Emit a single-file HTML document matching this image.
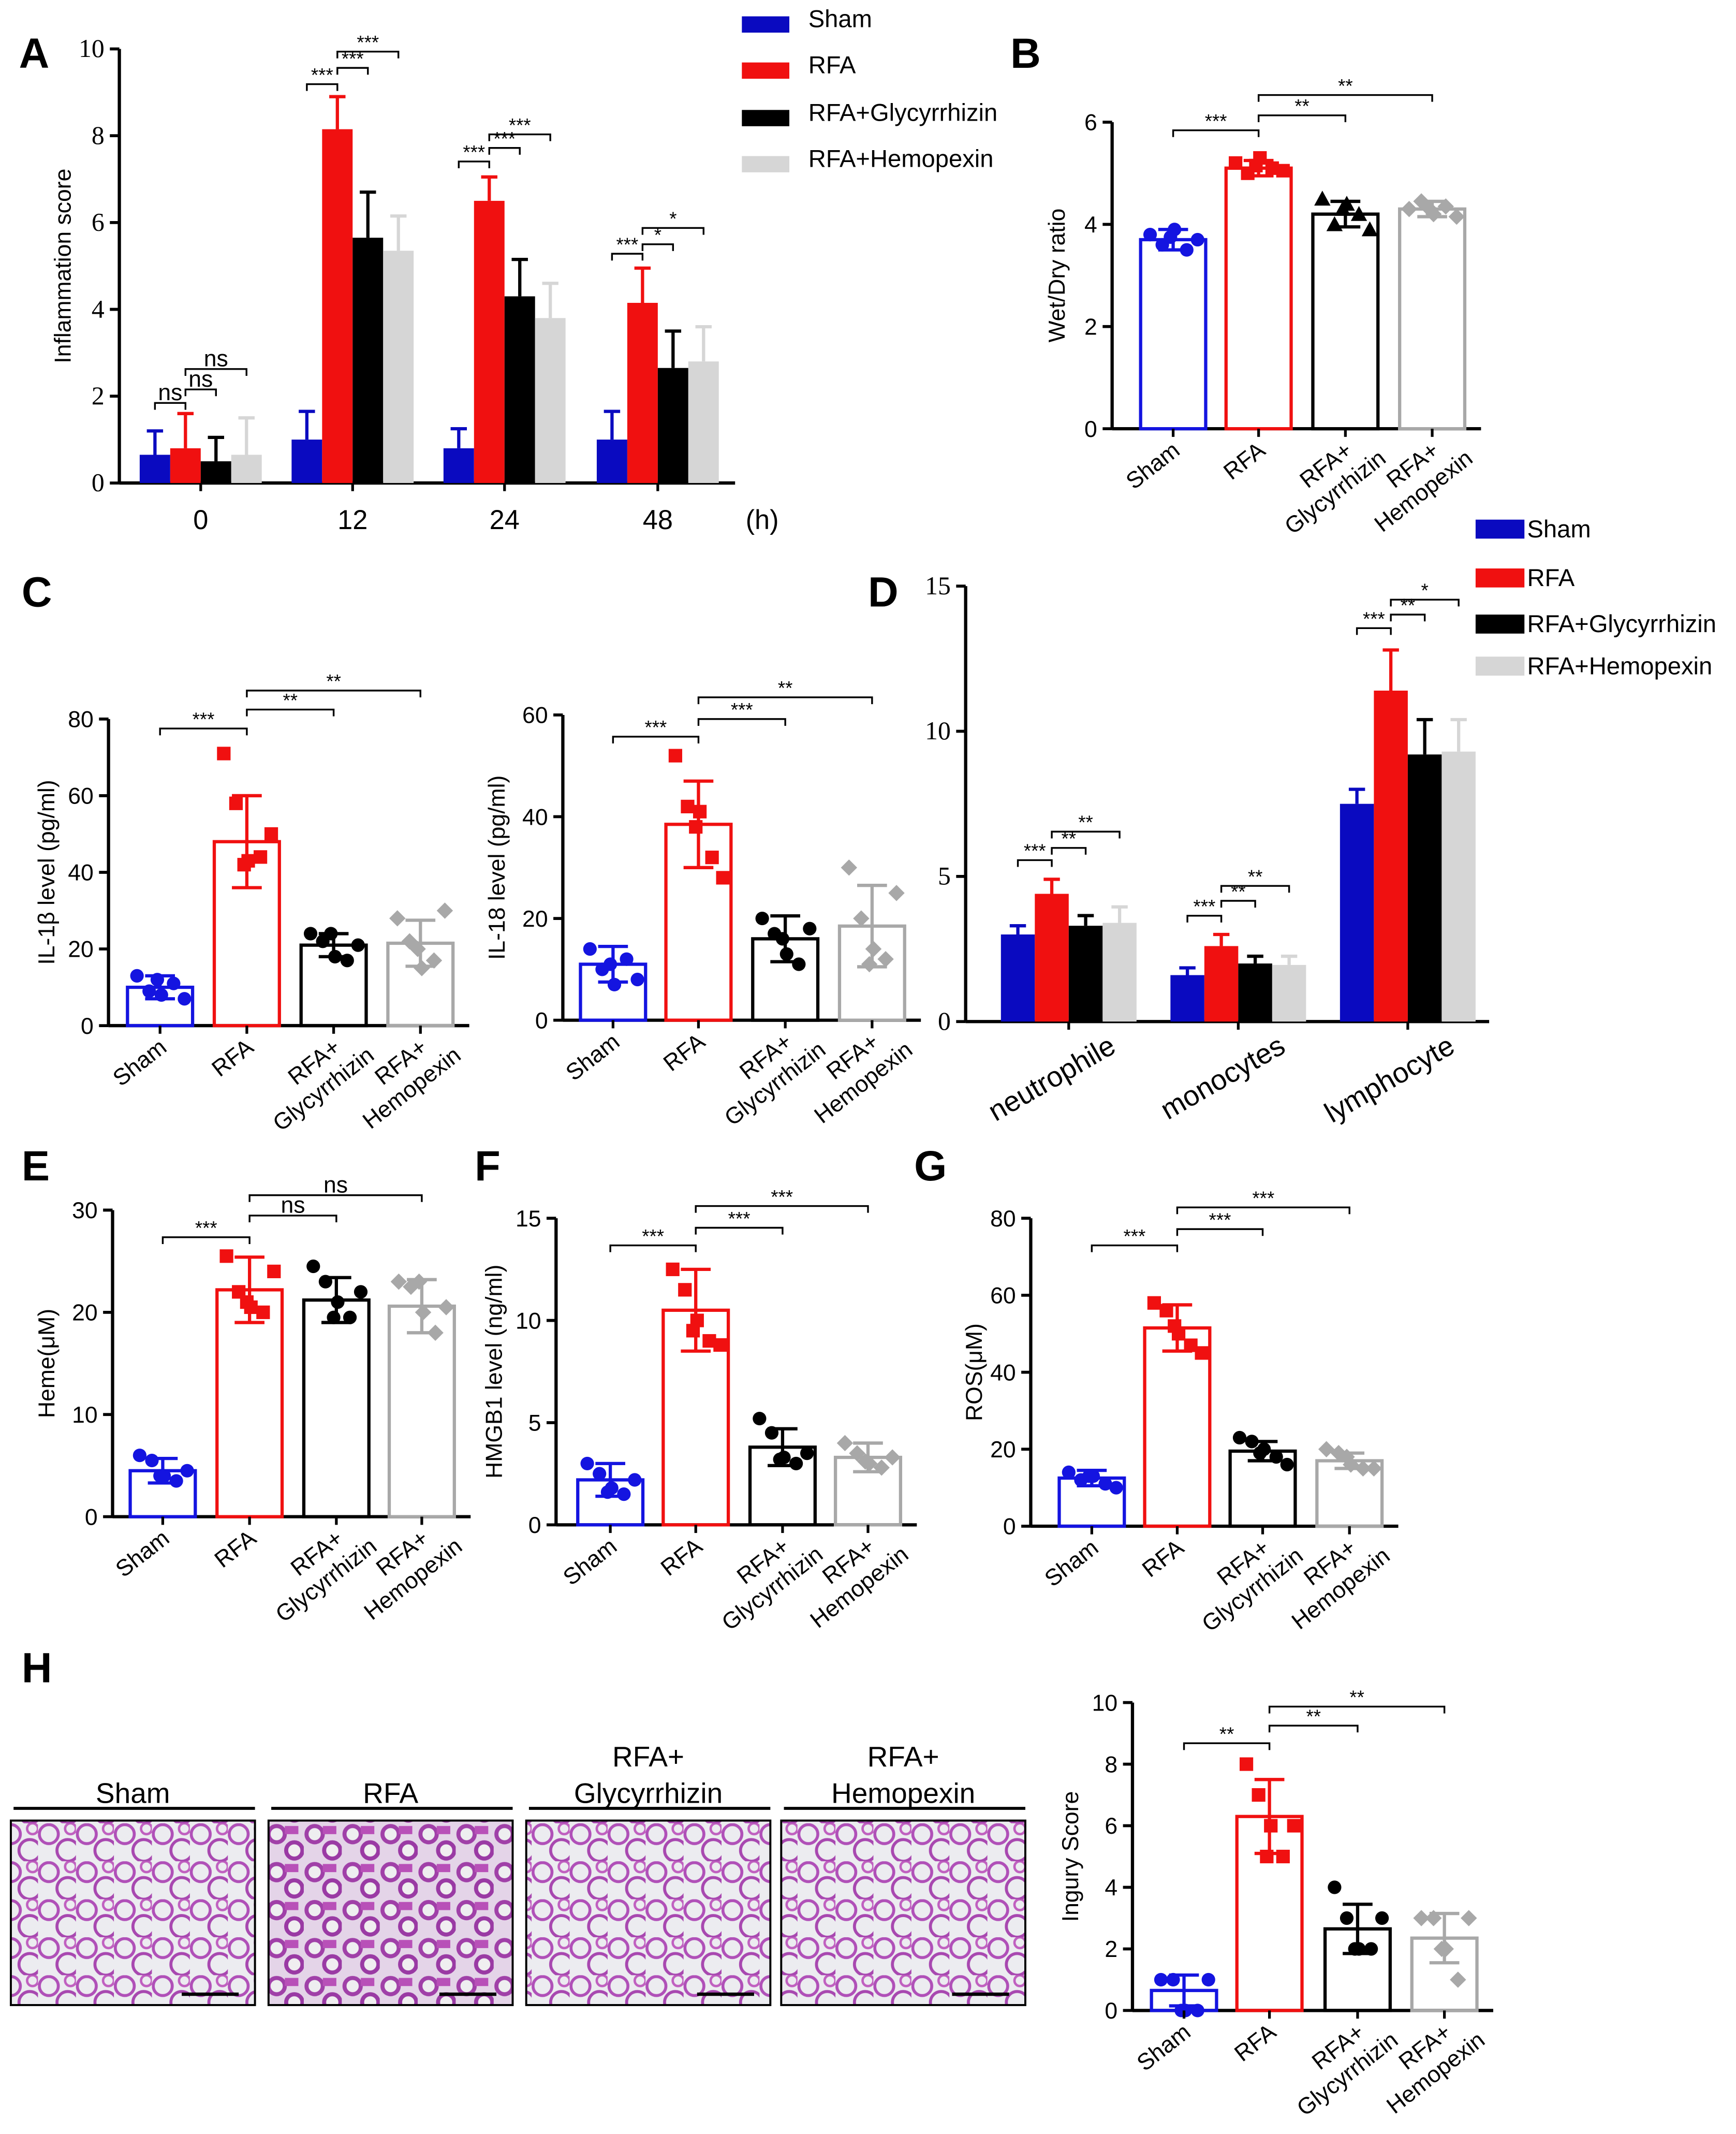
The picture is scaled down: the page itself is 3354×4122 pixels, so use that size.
<!DOCTYPE html>
<html><head><meta charset="utf-8"><style>
html,body{margin:0;padding:0;background:#fff}
svg{display:block}
text{font-family:"Liberation Sans",Arial,sans-serif;fill:#000}
</style></head><body>
<svg id="fig" xmlns="http://www.w3.org/2000/svg" width="3354" height="4122" viewBox="0 0 1280 1573">
<defs>
<pattern id="tissueA" width="28" height="28" patternUnits="userSpaceOnUse">
<rect width="28" height="28" fill="#ececf0"/>
<circle cx="8" cy="8" r="7" fill="none" stroke="#b050b8" stroke-width="2.2"/>
<circle cx="22" cy="20" r="8" fill="none" stroke="#a848b0" stroke-width="2.2"/>
<circle cx="24" cy="4" r="4" fill="none" stroke="#c060c0" stroke-width="1.8"/>
</pattern>
<pattern id="tissueB" width="28" height="28" patternUnits="userSpaceOnUse">
<rect width="28" height="28" fill="#e4d4e8"/>
<circle cx="8" cy="8" r="6" fill="#eeeef0" stroke="#a040a8" stroke-width="3"/>
<circle cx="21" cy="20" r="6" fill="#f0eef0" stroke="#9a3aa4" stroke-width="3"/>
<rect x="14" y="2" width="10" height="6" fill="#b850b8"/>
</pattern>
</defs>
<g id="root"></g>
</svg>
<script>
// ---------------- Data ----------------
const groups = ["Sham","RFA","RFA+Glycyrrhizin","RFA+Hemopexin"];
const colFill = ["#0a0ac0","#f01010","#000000","#d6d6d6"];
const colLine = ["#1414e0","#f01010","#000000","#a8a8a8"];

// Panel A
const aTimes = ["0","12","24","48"];
const aMeans = [[0.65,0.8,0.5,0.65],[1.0,8.15,5.65,5.35],[0.8,6.5,4.3,3.8],[1.0,4.15,2.65,2.8]];
const aErrs  = [[0.55,0.8,0.55,0.85],[0.65,0.75,1.05,0.8],[0.45,0.55,0.85,0.8],[0.65,0.8,0.85,0.8]];
const aTicks = [0,2,4,6,8,10];

// Panel B
const bMeans = [3.7,5.1,4.2,4.3];
const bErrs = [0.2,0.15,0.25,0.15];
const bPts = [[3.8,3.6,3.9,3.5,3.7,3.75],[5.2,5.0,5.3,5.1,5.05,5.15],[4.5,4.0,4.4,4.2,3.9,4.3],[4.3,4.45,4.2,4.35,4.15,4.3]];
const bTicks = [0,2,4,6];

// Panel C1 IL-1b
const c1Means = [10,48,21,21.5];
const c1Errs = [3,12,3,6];
const c1Pts = [[13,9,8,11,7,12],[71,58,43,44,50,42],[24,22,18,17,21,24],[28,22,15,17,30,20]];
const c1Ticks = [0,20,40,60,80];

// Panel C2 IL-18
const c2Means = [11,38.5,16,18.5];
const c2Errs = [3.5,8.5,4.5,8];
const c2Pts = [[14,10,7,12,8,11],[52,42,41,32,28,38],[20,17,13,11,18,16],[30,20,14,12,25,11]];
const c2Ticks = [0,20,40,60];

// Panel D
const dCats = ["neutrophile","monocytes","lymphocyte"];
const dMeans = [[3.0,4.4,3.3,3.4],[1.6,2.6,2.0,1.95],[7.5,11.4,9.2,9.3]];
const dErrs  = [[0.3,0.5,0.35,0.55],[0.25,0.4,0.25,0.3],[0.5,1.4,1.2,1.1]];
const dTicks = [0,5,10,15];

// Panel E Heme
const eMeans = [4.5,22.2,21.2,20.6];
const eErrs = [1.2,3.2,2.2,2.6];
const ePts = [[6,5.5,4,3.5,4.5,4],[25.5,22,20.5,20,24,21],[24.5,23,21,19.5,22,19.5],[23,22.5,20,18,20.5,23]];
const eTicks = [0,10,20,30];

// Panel F HMGB1
const fMeans = [2.2,10.5,3.8,3.3];
const fErrs = [0.8,2.0,0.9,0.7];
const fPts = [[3.0,2.5,1.8,1.5,2.2,1.6],[12.5,11.5,10,9,8.8,9.5],[5.2,4.5,3.3,3.0,3.5,3.2],[4.0,3.5,3.0,2.8,3.3,3.1]];
const fTicks = [0,5,10,15];

// Panel G ROS
const gMeans = [12.5,51.5,19.5,17];
const gErrs = [2,6,2.5,2];
const gPts = [[14,12,13,11,10,13],[58,56,50,47,45,52],[23,22,20,18,16,19],[20,19,16,15,15,18]];
const gTicks = [0,20,40,60,80];

// Panel H injury score
const hMeans = [0.65,6.3,2.65,2.35];
const hErrs = [0.5,1.2,0.8,0.8];
const hPts = [[1,1,0,0,1,0],[8,7,6,5,6,5],[4,3,2,2,3,2],[3,3,2,1,3,2]];
const hTicks = [0,2,4,6,8,10];

// ---------------- Drawing helpers ----------------
const NS="http://www.w3.org/2000/svg";
const root=document.getElementById('root');
function el(tag,attrs,parent,txt){const e=document.createElementNS(NS,tag);for(const k in attrs)e.setAttribute(k,attrs[k]);if(txt!==undefined)e.textContent=txt;(parent||root).appendChild(e);return e;}
function grp(name,parent){const g=el('g',{},parent);


return g;}
function txt(x,y,s,size,parent,extra){const a=Object.assign({x:x,y:y,'font-size':size},extra||{});const t=el('text',a,parent,s);return t;}

function yScale(o){return v=>o.y0-v*(o.y0-o.yTop)/o.max;}

function yAxis(o,g,ticks){
  const y=yScale(o);
  el('line',{x1:o.x0,y1:o.y0,x2:o.x0,y2:o.yTop,stroke:'#000','stroke-width':2.4},g);
  ticks.forEach(t=>{el('line',{x1:o.x0-7,y1:y(t),x2:o.x0,y2:y(t),stroke:'#000','stroke-width':2.2},g);
    txt(o.x0-11,y(t)+6,String(t),o.tickSize||17,g,{'text-anchor':'end',style:o.serif?'font-family:"Liberation Serif",serif':''});});
  if(o.title){
  const tt=txt(0,0,o.title,17,g,{'text-anchor':'middle',transform:`translate(${o.titleX},${(o.y0+o.yTop)/2}) rotate(-90)`});
  
  }
}

function shape(kind,x,y,c,g){
  if(kind==='c') return el('circle',{cx:x,cy:y,r:5,fill:c},g);
  if(kind==='s') return el('rect',{x:x-5,y:y-5,width:10,height:10,fill:c},g);
  if(kind==='t') return el('polygon',{points:`${x},${y-6} ${x+6},${y+5} ${x-6},${y+5}`,fill:c},g);
  return el('polygon',{points:`${x},${y-6} ${x+6},${y} ${x},${y+6} ${x-6},${y}`,fill:c},g);
}
const jitter=[-17,-8,1,10,18,-2];

function sig(g,x1,x2,yy,s){
  el('path',{d:`M${x1},${yy+5}V${yy}H${x2}V${yy+5}`,fill:'none',stroke:'#000','stroke-width':1.3},g);
  txt((x1+x2)/2,yy-2,s,s==='ns'?17:14,g,{'text-anchor':'middle'});
}

function dotPanel(name,o,means,errs,pts,ticks,shapes,sigs){
  const g=grp(name);
  const y=yScale(o);
  yAxis(o,g,ticks);
  el('line',{x1:o.x0,y1:o.y0,x2:o.cx[3]+o.bw/2+12,y2:o.y0,stroke:'#000','stroke-width':2.4},g);
  means.forEach((m,i)=>{
    const cx=o.cx[i];
    const b=el('rect',{x:cx-o.bw/2,y:y(m),width:o.bw,height:o.y0-y(m),fill:'none',stroke:colLine[i],'stroke-width':2.4},g);
    
    
    el('line',{x1:cx,y1:y(m-errs[i]),x2:cx,y2:y(m+errs[i]),stroke:colLine[i],'stroke-width':2.4},g);
    [m-errs[i],m+errs[i]].forEach(v=>el('line',{x1:cx-11,y1:y(v),x2:cx+11,y2:y(v),stroke:colLine[i],'stroke-width':2.4},g));
    pts[i].forEach((p,k)=>{const s=shape(shapes[i],cx+jitter[k],y(p),colLine[i],g);
      
      });
    el('line',{x1:cx,y1:o.y0,x2:cx,y2:o.y0+6,stroke:'#000','stroke-width':2},g);
    const lab=groups[i].indexOf('+')>0?['RFA+',groups[i].split('+')[1]]:[groups[i]];
    const t=el('text',{'font-size':17,'text-anchor':'end',transform:`translate(${cx+6},${o.y0+18}) rotate(-38)`},g);
    lab.forEach((l,k)=>{el('tspan',{x:k===1?16:0,dy:k===0?0:20},t,l);});
    
    
  });
  (sigs||[]).forEach(s=>sig(g,o.cx[s[0]],o.cx[s[1]],s[2],s[3]));
  return g;
}

// ---------------- Panel letters ----------------
[["A",14,50],["B",745,50],["C",16,447],["D",640,447],["E",16,870],["F",350,870],["G",674,870],["H",16,1240]].forEach(p=>{
  const t=txt(p[1],p[2],p[0],31,root,{'font-weight':'bold'});
  
  
});

// ---------------- Panel A ----------------
(function(){
  const g=grp('panel-a-inflammation-chart');
  const o={x0:88,y0:356,yTop:36,max:10,title:'Inflammation score',titleX:52,serif:true,tickSize:19};
  const y=yScale(o);
  yAxis(o,g,aTicks);
  el('line',{x1:o.x0,y1:o.y0,x2:542,y2:o.y0,stroke:'#000','stroke-width':2.4},g);
  const centers=[148,260,372,485], bw=22.5;
  aTimes.forEach((tm,gi)=>{
    const c=centers[gi];
    el('line',{x1:c,y1:o.y0,x2:c,y2:o.y0+6,stroke:'#000','stroke-width':2},g);
    txt(c,390,tm,20,g,{'text-anchor':'middle'});
    aMeans[gi].forEach((m,i)=>{
      const x=c-45+i*bw;
      const b=el('rect',{x:x,y:y(m),width:bw,height:o.y0-y(m),fill:colFill[i]},g);
      
      
      const xc=x+bw/2, top=y(m+aErrs[gi][i]);
      el('line',{x1:xc,y1:y(m),x2:xc,y2:top,stroke:colFill[i],'stroke-width':2.4},g);
      el('line',{x1:xc-6,y1:top,x2:xc+6,y2:top,stroke:colFill[i],'stroke-width':2.4},g);
    });
  });
  txt(562,390,'(h)',20,g,{'text-anchor':'middle'});
  const bx=i=>(k)=>centers[i]-45+k*bw+bw/2;
  const sA=[[0,0,1,297,'ns'],[0,1,2,287,'ns'],[0,1,3,272,'ns'],
    [1,0,1,62,'***'],[1,1,2,50,'***'],[1,1,3,38,'***'],
    [2,0,1,119,'***'],[2,1,2,109,'***'],[2,1,3,99,'***'],
    [3,0,1,187,'***'],[3,1,2,180,'*'],[3,1,3,168,'*']];
  sA.forEach(s=>sig(g,bx(s[0])(s[1]),bx(s[0])(s[2]),s[3],s[4]));
  const lg=grp('legend-a');
  [[10,'Sham'],[44,'RFA'],[79,'RFA+Glycyrrhizin'],[113,'RFA+Hemopexin']].forEach((l,i)=>{
    const r=el('rect',{x:547,y:l[0]+2,width:35,height:12,fill:colFill[i]},lg);
    
    
    txt(596,l[0]+10,l[1],18,lg);
  });
})();

// ---------------- Panel B ----------------
dotPanel('panel-b-wet-dry-chart',{x0:820,y0:316,yTop:90,max:6,title:'Wet/Dry ratio',titleX:785,cx:[865,928,992,1056],bw:48},
  bMeans,bErrs,bPts,bTicks,['c','s','t','d'],[[0,1,96,'***'],[1,2,85,'**'],[1,3,70,'**']]);

// ---------------- Panel C ----------------
dotPanel('panel-c-il1b-chart',{x0:80,y0:756,yTop:530,max:80,title:'IL-1β level (pg/ml)',titleX:40,cx:[118,182,246,310],bw:48},
  c1Means,c1Errs,c1Pts,c1Ticks,['c','s','c','d'],[[0,1,537,'***'],[1,2,523,'**'],[1,3,509,'**']]);
dotPanel('panel-c-il18-chart',{x0:415,y0:752,yTop:527,max:60,title:'IL-18 level (pg/ml)',titleX:372,cx:[452,515,579,643],bw:48},
  c2Means,c2Errs,c2Pts,c2Ticks,['c','s','c','d'],[[0,1,543,'***'],[1,2,530,'***'],[1,3,514,'**']]);

// ---------------- Panel D ----------------
(function(){
  const g=grp('panel-d-cell-count-chart');
  const o={x0:712,y0:753,yTop:432,max:15,title:'',titleX:680,serif:true,tickSize:19};
  const y=yScale(o);
  yAxis(o,g,dTicks);
  el('line',{x1:o.x0,y1:o.y0,x2:1098,y2:o.y0,stroke:'#000','stroke-width':2.4},g);
  const centers=[788,913,1038], bw=25;
  dCats.forEach((cat,gi)=>{
    const c=centers[gi];
    dMeans[gi].forEach((m,i)=>{
      const x=c-50+i*bw;
      const b=el('rect',{x:x,y:y(m),width:bw,height:o.y0-y(m),fill:colFill[i]},g);
      
      
      const xc=x+bw/2, top=y(m+dErrs[gi][i]);
      el('line',{x1:xc,y1:y(m),x2:xc,y2:top,stroke:colFill[i],'stroke-width':2.4},g);
      el('line',{x1:xc-6,y1:top,x2:xc+6,y2:top,stroke:colFill[i],'stroke-width':2.4},g);
    });
    el('line',{x1:c,y1:o.y0,x2:c,y2:o.y0+6,stroke:'#000','stroke-width':2},g);
    txt(0,0,cat,21,g,{'text-anchor':'end',transform:`translate(${c+36},${o.y0+22}) rotate(-30)`});
  });
  const bx=(gi,k)=>centers[gi]-50+k*bw+bw/2;
  [[0,0,1,634,'***'],[0,1,2,625,'**'],[0,1,3,613,'**'],
   [1,0,1,675,'***'],[1,1,2,664,'**'],[1,1,3,653,'**'],
   [2,0,1,463,'***'],[2,1,2,453,'**'],[2,1,3,442,'*']].forEach(s=>sig(g,bx(s[0],s[1]),bx(s[0],s[2]),s[3],s[4]));
  const lg=grp('legend-d');
  [[383,'Sham'],[419,'RFA'],[453,'RFA+Glycyrrhizin'],[484,'RFA+Hemopexin']].forEach((l,i)=>{
    const r=el('rect',{x:1088,y:l[0],width:36,height:14,fill:colFill[i]},lg);
    
    
    txt(1126,l[0]+13,l[1],18,lg);
  });
})();

// ---------------- Panels E F G ----------------
dotPanel('panel-e-heme-chart',{x0:83,y0:1118,yTop:892,max:30,title:'Heme(μM)',titleX:40,cx:[120,184,248,311],bw:48},
  eMeans,eErrs,ePts,eTicks,['c','s','c','d'],[[0,1,912,'***'],[1,2,896,'ns'],[1,3,881,'ns']]);
dotPanel('panel-f-hmgb1-chart',{x0:410,y0:1124,yTop:898,max:15,title:'HMGB1  level (ng/ml)',titleX:370,cx:[450,513,577,640],bw:48},
  fMeans,fErrs,fPts,fTicks,['c','s','c','d'],[[0,1,918,'***'],[1,2,905,'***'],[1,3,889,'***']]);
dotPanel('panel-g-ros-chart',{x0:760,y0:1125,yTop:898,max:80,title:'ROS(μM)',titleX:724,cx:[805,868,931,995],bw:48},
  gMeans,gErrs,gPts,gTicks,['c','s','c','d'],[[0,1,918,'***'],[1,2,906,'***'],[1,3,890,'***']]);

// ---------------- Panel H ----------------
(function(){
  const g=grp('panel-h-histology');
  const boxes=[[8,'Sham','tissueA'],[198,'RFA','tissueB'],[388,'RFA+|Glycyrrhizin','tissueA'],[576,'RFA+|Hemopexin','tissueA']];
  boxes.forEach((b,i)=>{
    const x=b[0],w=180;
    const r=el('rect',{x:x,y:1342,width:w,height:136,fill:`url(#${b[2]})`,stroke:'#000','stroke-width':1.5},g);
    
    
    el('line',{x1:x+126,y1:1470,x2:x+168,y2:1470,stroke:'#000','stroke-width':2.5},g);
    el('line',{x1:x+2,y1:1333,x2:x+w,y2:1333,stroke:'#000','stroke-width':2.2},g);
    const parts=b[1].split('|');
    if(parts.length===1) txt(x+w/2,1329,parts[0],21,g,{'text-anchor':'middle'});
    else {txt(x+w/2,1302,parts[0],21,g,{'text-anchor':'middle'});txt(x+w/2,1329,parts[1],21,g,{'text-anchor':'middle'});}
  });
})();
dotPanel('panel-h-injury-chart',{x0:835,y0:1482,yTop:1255,max:10,title:'Ingury Score',titleX:795,cx:[873,936,1001,1065],bw:48},
  hMeans,hErrs,hPts,hTicks,['c','s','c','d'],[[0,1,1285,'**'],[1,2,1272,'**'],[1,3,1258,'**']]);
</script>
</body></html>
